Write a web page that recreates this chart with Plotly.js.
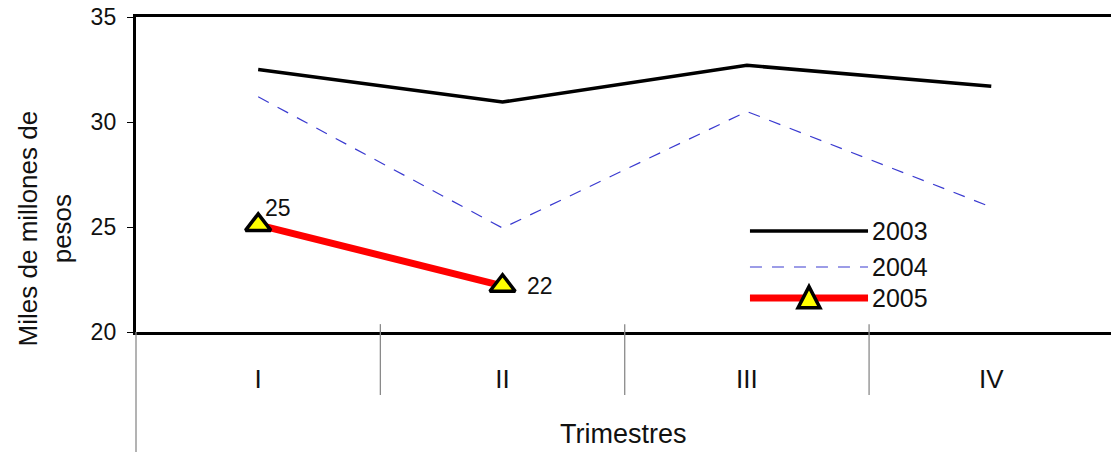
<!DOCTYPE html>
<html>
<head>
<meta charset="utf-8">
<script src="https://cdn.plot.ly/plotly-3.0.1.min.js"></script>
<style>html,body{margin:0;padding:0;background:#fff;}#chart{width:1111px;height:452px;}</style>
</head>
<body>
<div id="chart"></div>
<script>
const categories = ['I', 'II', 'III', 'IV'];
const seriesNames = ['2003', '2004', '2005'];
const values2003 = [32.5, 30.95, 32.7, 31.7];
const values2004 = [31.2, 24.95, 30.5, 25.95];
const values2005 = [25.1, 22.2];
const labels2005 = ['25', '22'];

const FONT = 'Liberation Sans, Arial, sans-serif';

const traces = [
  {x: categories, y: values2003, name: seriesNames[0], type: 'scatter', mode: 'lines',
   line: {color: '#000000', width: 3.6}},
  {x: categories, y: values2004, name: seriesNames[1], type: 'scatter', mode: 'lines',
   line: {color: '#3a3ad0', width: 1.2, dash: '12px,10px'}},
  {x: categories.slice(0, values2005.length), y: values2005, name: seriesNames[2], type: 'scatter',
   mode: 'lines+markers',
   line: {color: '#ff0000', width: 7},
   marker: {symbol: 'triangle-up', size: 22, color: '#ffff00', line: {color: '#000', width: 3.5}},
   cliponaxis: false}
];

const shapes = [];
const annotations = [];

// data labels for 2005
const labelShift = [[5, 17], [22, 0]];
values2005.forEach((v, i) => {
  annotations.push({xref: 'x', yref: 'y', x: categories[i], y: v, text: labels2005[i], showarrow: false,
    xanchor: 'left', yanchor: 'middle', xshift: labelShift[i][0], yshift: labelShift[i][1],
    font: {family: FONT, size: 23, color: '#111'}});
});

// custom legend (paper coords)
const legX0 = 0.6297, legX1 = 0.7508, legTextX = 0.7528;
const legY = [0.3206, 0.2063, 0.1079];
shapes.push({type: 'line', xref: 'paper', yref: 'paper', x0: legX0, x1: legX1, y0: legY[0], y1: legY[0], line: {color: '#000', width: 3.6}});
shapes.push({type: 'line', xref: 'paper', yref: 'paper', x0: legX0, x1: legX1, y0: legY[1], y1: legY[1], line: {color: '#3a3ad0', width: 1.2, dash: '12px,10px'}});
shapes.push({type: 'line', xref: 'paper', yref: 'paper', x0: legX0, x1: legX1, y0: legY[2], y1: legY[2], line: {color: '#ff0000', width: 7}});
const tx = (legX0 + legX1) / 2, ty = legY[2];
const hw = 0.0112, hb = 0.031, ht = 0.036;
shapes.push({type: 'path', xref: 'paper', yref: 'paper', layer: 'above',
  path: `M ${tx - hw} ${ty - hb} L ${tx + hw} ${ty - hb} L ${tx} ${ty + ht} Z`,
  fillcolor: '#ffff00', line: {color: '#000', width: 3.5}});
seriesNames.forEach((n, i) => {
  annotations.push({xref: 'paper', yref: 'paper', x: legTextX, y: legY[i], text: n, showarrow: false,
    xanchor: 'left', yanchor: 'middle', font: {family: FONT, size: 25, color: '#111'}});
});

// category separators below the axis
[0.5, 1.5, 2.5].forEach(v => {
  shapes.push({type: 'line', xref: 'x', yref: 'paper', x0: v, x1: v, y0: 0.025, y1: -0.2,
    line: {color: '#8a8a8a', width: 1.3}});
});
// left axis extension below
shapes.push({type: 'line', xref: 'paper', yref: 'paper', x0: 0, x1: 0, y0: 0, y1: -0.381,
  line: {color: '#8a8a8a', width: 1.3}});

// axis titles as annotations
annotations.push({xref: 'paper', yref: 'paper', x: -0.093, y: 0.33, text: 'Miles de millones de<br>pesos',
  showarrow: false, textangle: -90, xanchor: 'center', yanchor: 'middle',
  font: {family: FONT, size: 26, color: '#111'}});
annotations.push({xref: 'paper', yref: 'paper', x: 0.5, y: -0.325, text: 'Trimestres',
  showarrow: false, xanchor: 'center', yanchor: 'middle',
  font: {family: FONT, size: 27, color: '#111'}});

const layout = {
  width: 1111, height: 452,
  margin: {l: 136, r: 0, t: 17, b: 120, pad: 0},
  paper_bgcolor: '#fff', plot_bgcolor: '#fff',
  showlegend: false,
  font: {family: FONT, color: '#111'},
  xaxis: {type: 'category', categoryorder: 'array', categoryarray: categories, range: [-0.5, 3.49],
    showline: true, linecolor: '#000', linewidth: 3.2, mirror: true,
    showgrid: false, zeroline: false, ticks: '', ticklabelstandoff: 22,
    tickfont: {family: FONT, size: 26, color: '#111'}},
  yaxis: {range: [20, 35], dtick: 5, tick0: 20, showline: true, linecolor: '#000', linewidth: 3.2,
    showgrid: false, zeroline: false, ticks: 'outside', ticklen: 6, tickwidth: 1, tickcolor: '#000',
    ticklabelstandoff: 6, tickfont: {family: FONT, size: 23, color: '#111'}},
  shapes: shapes,
  annotations: annotations
};

Plotly.newPlot('chart', traces, layout, {displayModeBar: false, staticPlot: true});
</script>
</body>
</html>
